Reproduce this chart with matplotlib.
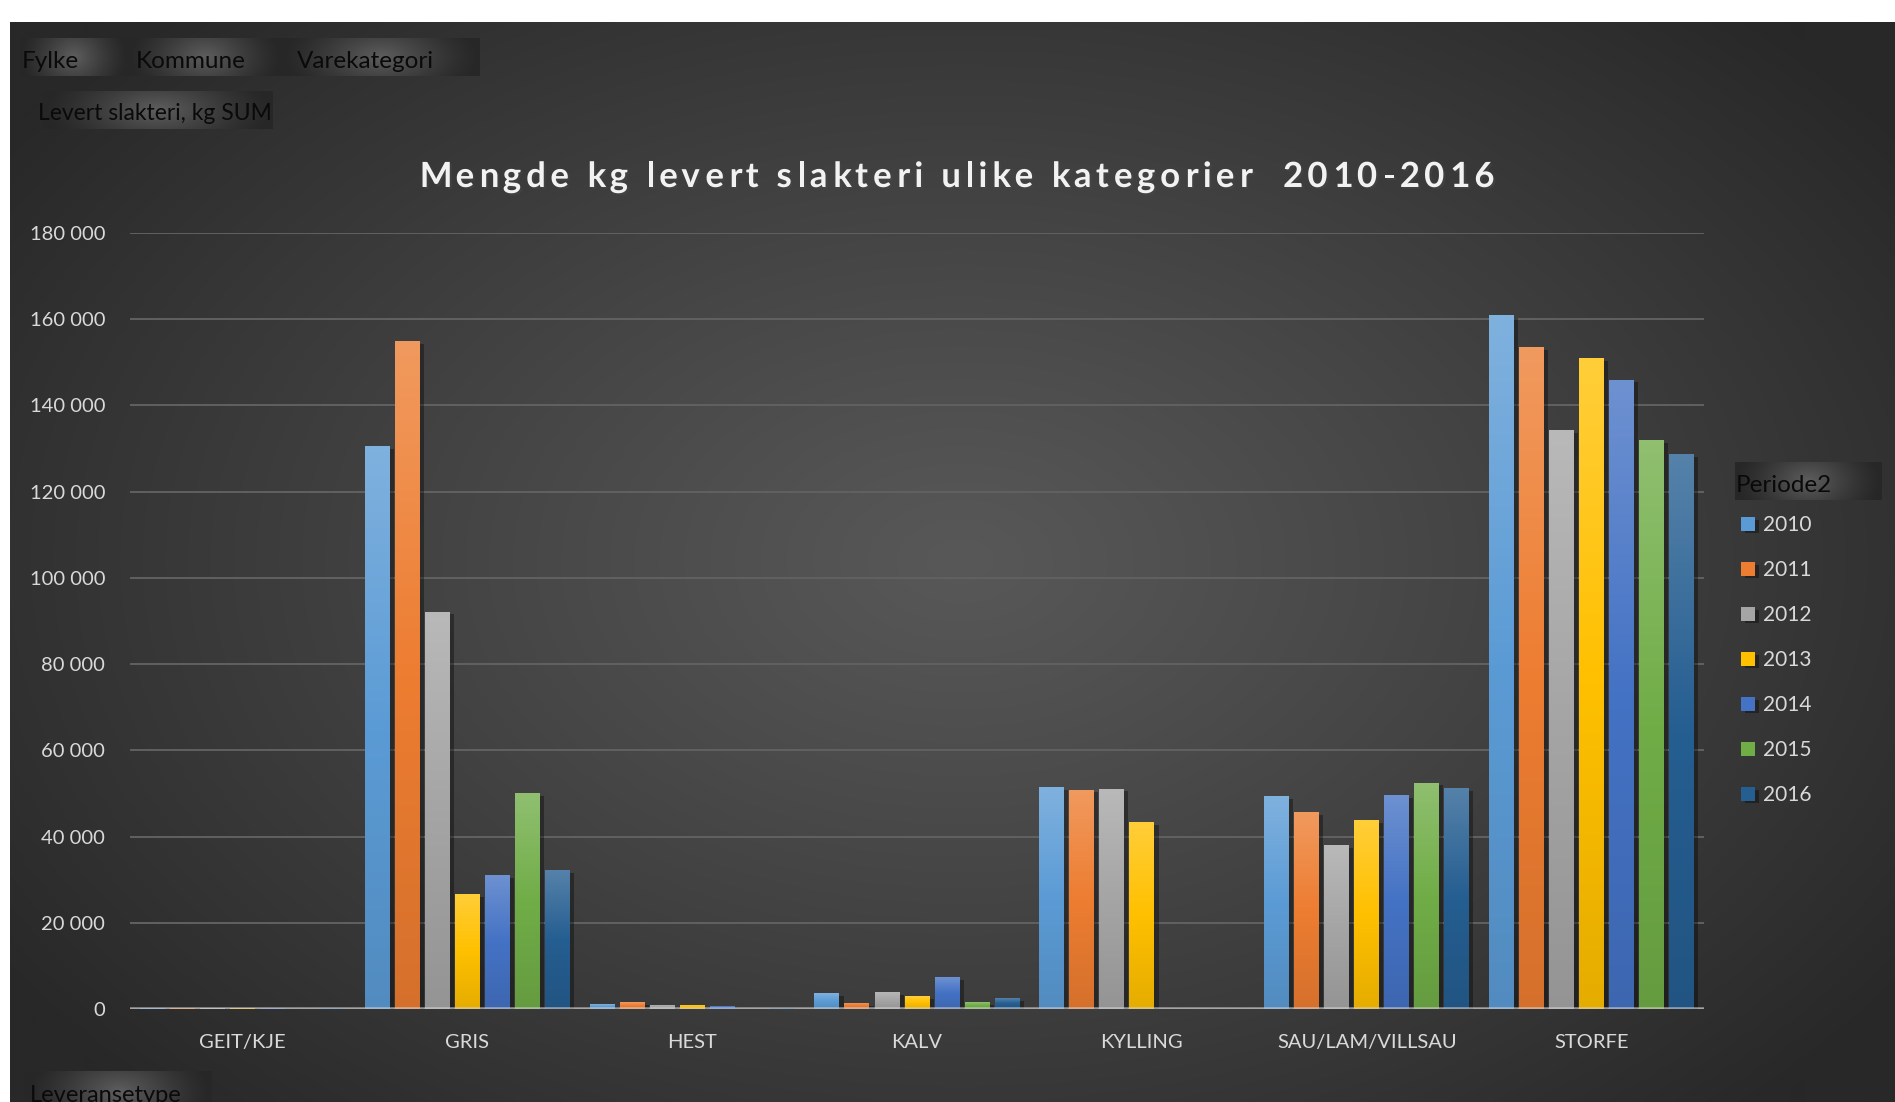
import numpy as np
import matplotlib.pyplot as plt
from matplotlib import patheffects as pe
from matplotlib.colors import to_rgb
from matplotlib.ticker import FuncFormatter, MultipleLocator
from matplotlib.font_manager import findfont, FontProperties
from matplotlib.ft2font import FT2Font

plt.rcParams['font.family'] = ['Lato', 'DejaVu Sans']

#data#############################################################################
categories = ['GEIT/KJE', 'GRIS', 'HEST', 'KALV', 'KYLLING', 'SAU/LAM/VILLSAU', 'STORFE']
years = ['2010', '2011', '2012', '2013', '2014', '2015', '2016']

y2010 = [250, 130500, 1150, 3700, 51500, 49300, 161000]
y2011 = [300, 155000, 1600, 1400, 50900, 45700, 153500]
y2012 = [200, 92200, 950, 3950, 51100, 38000, 134200]
y2013 = [300, 26700, 950, 3000, 43400, 43900, 151000]
y2014 = [200, 31000, 700, 7400, 0, 49700, 146000]
y2015 = [0, 50100, 0, 1600, 0, 52500, 132000]
y2016 = [150, 32200, 300, 2550, 0, 51300, 128700]
series = [y2010, y2011, y2012, y2013, y2014, y2015, y2016]

colors = ['#5b9bd5', '#ed7d31', '#a5a5a5', '#ffc000', '#4472c4', '#70ad47', '#255e91']

title = 'Mengde kg levert slakteri ulike kategorier  2010-2016'

#figure in pixel units##########################################################
W, H = 1895, 1102
fig = plt.figure(figsize=(W / 100, H / 100), dpi=100)
fig.patch.set_facecolor('white')

bg = fig.add_axes([0, 0, 1, 1], zorder=0)
bg.set_xlim(0, W)
bg.set_ylim(H, 0)
bg.axis('off')

#dark radial gradient chart background
x0, x1, y0, y1 = 10, W, 22, H
yy, xx = np.mgrid[y0:y1:2, x0:x1:2]
r = np.sqrt(((xx - 960) / 1150.) ** 2 + ((yy - 560) / 760.) ** 2)
r = np.clip(r, 0, 1) ** 1.1
c_in = np.array(to_rgb('#585858'))
c_out = np.array(to_rgb('#282828'))
img = c_in + (c_out - c_in) * r[..., None]
bg.imshow(img, extent=[x0, x1, y1, y0], aspect='auto', origin='upper',
          interpolation='bilinear')


def button(bx0, by0, bx1, by1, text, tx, size=17):
    t = np.linspace(-1, 1, 200)
    s = np.linspace(-1, 1, 40)
    tt, ss = np.meshgrid(t, s)
    v = np.clip(1 - np.sqrt(tt ** 2 + 0.15 * ss ** 2), 0, 1) ** 1.3
    c_lo = np.array(to_rgb('#272727'))
    c_hi = np.array(to_rgb('#5e5e5e'))
    im = c_lo + (c_hi - c_lo) * v[..., None]
    bg.imshow(im, extent=[bx0, bx1, by1, by0], aspect='auto', origin='upper',
              interpolation='bilinear')
    bg.text(tx, (by0 + by1) / 2 + 4, text, ha='left', va='center',
            fontsize=size, color='#0a0a0a')


button(20, 38, 128, 76, 'Fylke', 22, 17.5)
button(128, 38, 282, 76, 'Kommune', 136, 17.5)
button(282, 38, 480, 76, 'Varekategori', 297, 17.5)
button(43, 91, 273, 129, 'Levert slakteri, kg SUM', 38, 16.5)
button(1735, 462, 1882, 500, 'Periode2', 1736, 17.5)
button(27, 1071, 212, 1112, 'Leveransetype', 30, 17)
bg.set_xlim(0, W)
bg.set_ylim(H, 0)

#spaced-out title, placed letter by letter
tsize = 25
fp = FontProperties(family='Lato', weight='bold', size=tsize)
ft = FT2Font(findfont(fp))
ft.set_size(tsize, 100)
adv, lsb = [], []
for ch in title:
    g = ft.load_char(ord(ch))
    adv.append(g.linearHoriAdvance / 65536.)
    lsb.append(g.horiBearingX / 64.)
t_left, t_right = 417, 1493
gap = (t_right - t_left - sum(adv)) / (len(title) - 1)
pen = t_left
for ch, a, b in zip(title, adv, lsb):
    if ch != ' ':
        bg.text(pen + b, 187, ch, ha='left', va='baseline', fontproperties=fp,
                color='#f2f2f2',
                path_effects=[pe.SimplePatchShadow(offset=(1.5, -1.5), alpha=0.45),
                              pe.Normal()])
    pen += a + gap

#bar chart####################################################################
ax = fig.add_axes([130 / W, 1 - 1009 / H, (1704 - 130) / W, (1009 - 233) / H], zorder=1)
ax.patch.set_alpha(0)

x = np.arange(len(categories))
step = 0.1335
width = 0.111
containers = []
for i, (vals, col) in enumerate(zip(series, colors)):
    bars = ax.bar(x + (i - 3) * step, vals, width, color=col, zorder=2,
                  label=years[i])
    containers.append(bars)
    base = np.array(to_rgb(col))
    top = base + (1 - base) * 0.22
    bot = base * 0.9
    g = np.linspace(0, 1, 64)[:, None]
    grad = np.where(g < 0.5, top + (base - top) * (g / 0.5),
                    base + (bot - base) * ((g - 0.5) / 0.5))
    grad = grad[:, None, :]
    for p in bars:
        h = p.get_height()
        if h <= 0:
            continue
        p.set_path_effects([pe.SimplePatchShadow(offset=(3, -2), shadow_rgbFace='black',
                                                 alpha=0.35), pe.Normal()])
        im = ax.imshow(grad, extent=[p.get_x(), p.get_x() + p.get_width(), 0, h],
                       aspect='auto', origin='upper', zorder=2.1,
                       interpolation='bilinear')
        im.set_clip_path(p)

ax.set_xlim(-0.5, len(categories) - 0.5)
ax.set_ylim(0, 180000)
ax.yaxis.set_major_locator(MultipleLocator(20000))
ax.yaxis.set_major_formatter(FuncFormatter(lambda v, _: f'{int(v):,}'.replace(',', ' ')))
ax.set_xticks(x)
ax.set_xticklabels(categories)
ax.tick_params(axis='both', length=0, colors='#d9d9d9')
ax.tick_params(axis='x', pad=18, labelsize=14.5)
ax.tick_params(axis='y', pad=18, labelsize=14.5)
for sp in ax.spines.values():
    sp.set_visible(False)
ax.yaxis.grid(True, color='#616161', lw=1.4, zorder=0)
ax.set_axisbelow(True)
ax.axhline(0, color='#d4d4d4', lw=2.6, alpha=0.6, zorder=5)

fig.legend(handles=containers, labels=years, loc='upper left',
           bbox_to_anchor=(1741 / W, 1 - 515 / H), frameon=False, fontsize=15,
           labelcolor='#d9d9d9', handlelength=0.65, handleheight=0.65,
           handletextpad=0.4, labelspacing=1.2, borderpad=0, borderaxespad=0)

fig.savefig('out.png', dpi=100)
